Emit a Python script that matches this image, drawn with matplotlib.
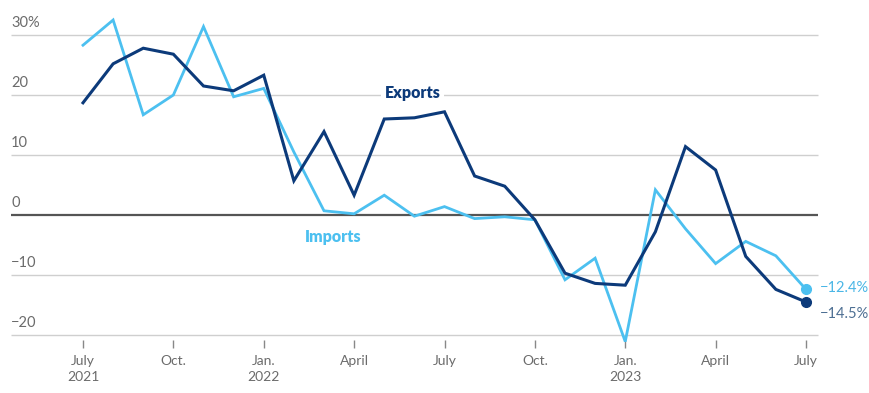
import matplotlib
matplotlib.use("Agg")
import matplotlib.pyplot as plt

months = ["Jul21","Aug21","Sep21","Oct21","Nov21","Dec21","Jan22","Feb22","Mar22","Apr22",
          "May22","Jun22","Jul22","Aug22","Sep22","Oct22","Nov22","Dec22","Jan23","Feb23",
          "Mar23","Apr23","May23","Jun23","Jul23"]
exports = [18.7, 25.2, 27.8, 26.8, 21.5, 20.7, 23.3, 5.7, 13.9, 3.3,
           16.0, 16.2, 17.2, 6.5, 4.8, -0.8, -9.7, -11.4, -11.7, -2.8,
           11.4, 7.5, -6.9, -12.4, -14.5]
imports = [28.3, 32.5, 16.7, 20.0, 31.4, 19.7, 21.1, 10.5, 0.7, 0.2,
           3.3, -0.2, 1.4, -0.6, -0.3, -0.8, -10.8, -7.2, -21.1, 4.2,
           -2.3, -8.1, -4.4, -6.8, -12.4]
y_ticks = [30, 20, 10, 0, -10, -20]
y_labels = ["30%", "20", "10", "0", "\u221210", "\u221220"]
x_tick_idx = [0, 3, 6, 9, 12, 15, 18, 21, 24]
x_tick_labels = ["July\n2021", "Oct.", "Jan.\n2022", "April", "July", "Oct.", "Jan.\n2023", "April", "July"]

DARK = "#0c3a7a"
LIGHT = "#4cc0f0"
GRID = "#cfcfcf"
TXT = "#6b6b6b"

plt.rcParams['font.family'] = ['Lato', 'DejaVu Sans']

fig = plt.figure(figsize=(8.69, 3.93), dpi=100)
ax = fig.add_axes([0, 0, 1, 1])
px = 30.125
ax.set_xlim((0 - 83) / px, (869 - 83) / px)
ax.set_ylim(-(393 - 215) / 6.0, 215 / 6.0)
ax.axis("off")

x0 = (11 - 83) / px
x1 = (818 - 83) / px
for t, lab in zip(y_ticks, y_labels):
    if t == 0:
        ax.hlines(t, x0, x1, color="#555555", lw=1.6, zorder=2)
    else:
        ax.hlines(t, x0, x1, color=GRID, lw=1.0, zorder=1)
    ax.text(x0, t + 0.9, lab, ha="left", va="bottom", fontsize=10.5, color=TXT)

xs = list(range(len(months)))
ax.plot(xs, imports, color=LIGHT, lw=2.0, zorder=3, solid_joinstyle="miter")
ax.plot(xs, exports, color=DARK, lw=2.2, zorder=4, solid_joinstyle="miter")
ax.plot(xs[-1], imports[-1], "o", color=LIGHT, ms=7, zorder=5)
ax.plot(xs[-1], exports[-1], "o", color=DARK, ms=7, zorder=5)

for i, lab in zip(x_tick_idx, x_tick_labels):
    ax.vlines(i, -20.9, -22.2, color="#888888", lw=1.0)
    ax.text(i, -23.3, lab, ha="center", va="top", fontsize=10, color=TXT, linespacing=1.45)

ax.text(xs[-1] + 0.45, imports[-1] + 0.3, "\u221212.4%", ha="left", va="center", fontsize=10.5, color="#4ab6e6")
ax.text(xs[-1] + 0.45, exports[-1] - 2.0, "\u221214.5%", ha="left", va="center", fontsize=10.5, color="#4d6f93")

ax.text(10.95, 20.3, "Exports", ha="center", va="center", fontsize=11.5, fontweight="heavy", color=DARK,
        bbox=dict(facecolor="white", edgecolor="none", pad=2.5), zorder=6)
ax.text(8.3, -3.6, "Imports", ha="center", va="center", fontsize=11.5, fontweight="heavy", color=LIGHT, zorder=6)

fig.savefig("out.png", dpi=100)
